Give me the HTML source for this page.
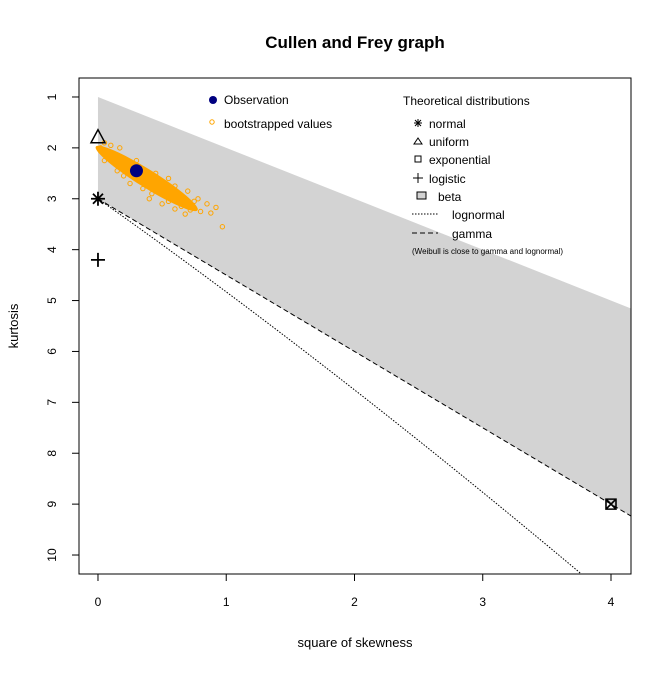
<!DOCTYPE html>
<html><head><meta charset="utf-8"><style>
body{margin:0;background:#fff}
svg text{font-family:"Liberation Sans",Arial,sans-serif}
</style></head><body>
<svg id="c" width="672" height="672" viewBox="0 0 672 672">
<text x="355" y="48" text-anchor="middle" font-size="17" font-weight="bold">Cullen and Frey graph</text>
<g id="plot"></g>
<rect x="79" y="78" width="552" height="496" fill="none" stroke="#000"/>
<g id="axes" font-size="12"></g>
<text x="355" y="647" text-anchor="middle" font-size="13">square of skewness</text>
<text transform="translate(18,326) rotate(-90)" text-anchor="middle" font-size="13">kurtosis</text>
<g id="legend" font-size="12">
<circle cx="213" cy="100" r="4" fill="#000080"/>
<text x="224" y="104">Observation</text>
<circle cx="212" cy="122" r="2.2" fill="none" stroke="orange"/>
<text x="224" y="128">bootstrapped values</text>
<text x="403" y="105">Theoretical distributions</text>
<path d="M414 123h8M418 119v8M415 120l6 6M415 126l6 -6" stroke="#000"/>
<text x="429" y="128">normal</text>
<polygon points="418,138 414,144 422,144" fill="none" stroke="#000"/>
<text x="429" y="146">uniform</text>
<rect x="415" y="156" width="6" height="6" fill="none" stroke="#000"/>
<text x="429" y="164">exponential</text>
<path d="M413 178h10M418 173v10" stroke="#000"/>
<text x="429" y="183">logistic</text>
<rect x="417" y="192" width="9" height="7" fill="#d3d3d3" stroke="#000"/>
<text x="438" y="201">beta</text>
<path d="M412 214h26" stroke="#000" stroke-dasharray="1.5,1.5"/>
<text x="452" y="219">lognormal</text>
<path d="M412 233h26" stroke="#000" stroke-dasharray="5,3"/>
<text x="452" y="238">gamma</text>
<text x="412" y="254" font-size="8">(Weibull is close to gamma and lognormal)</text>
</g>
</svg>
<script>
const xTicks=[0,1,2,3,4];
const yTicks=[1,2,3,4,5,6,7,8,9,10];
const obs=[0.3,2.45];
const bootX=[0.05,0.1,0.17,0.3,0.45,0.55,0.6,0.7,0.78,0.85,0.8,0.65,0.55,0.5,0.97,0.05,0.15,0.2,0.35,0.42,0.6,0.72,0.88,0.92,0.02,0.08,0.25,0.4,0.68,0.75];
const bootY=[1.9,1.95,2.0,2.25,2.5,2.6,2.75,2.85,3.0,3.1,3.25,3.15,3.05,3.1,3.55,2.25,2.45,2.55,2.8,2.9,3.2,3.22,3.28,3.17,2.0,2.2,2.7,3.0,3.3,3.05];
const theoX={uniform:0,normal:0,logistic:0,exponential:4};
const theoY={uniform:1.8,normal:3,logistic:4.2,exponential:9};
const xmin=-0.148,xmax=4.156,ymin=0.627,ymax=10.373;
const X=v=>79+(v-xmin)/(xmax-xmin)*552;
const Y=v=>78+(v-ymin)/(ymax-ymin)*496;
const NS="http://www.w3.org/2000/svg";
function mk(t,a,p){const e=document.createElementNS(NS,t);for(const k in a)e.setAttribute(k,a[k]);p.appendChild(e);return e;}
const plot=document.getElementById('plot'),axes=document.getElementById('axes');
const defs=mk('clipPath',{id:'clp'},plot);mk('rect',{x:79,y:78,width:552,height:496},defs);
const g=mk('g',{'clip-path':'url(#clp)'},plot);
const xe=xmax;
let beta=mk('polygon',{points:`${X(0)},${Y(1)} ${X(xe)},${Y(1+xe)} ${X(xe)},${Y(3+1.5*xe)} ${X(0)},${Y(3)}`,fill:'#d3d3d3'},g);


let gl=mk('line',{x1:X(0),y1:Y(3),x2:X(xe),y2:Y(3+1.5*xe),stroke:'#000','stroke-dasharray':'5,3'},g);


let pts=[];
for(let s=0.001;s<1.2;s+=0.005){const w=Math.exp(s*s);const sk=(w+2)*(w+2)*(w-1);const ku=w**4+2*w**3+3*w*w-3;pts.push(X(sk)+','+Y(ku));if(ku>11)break;}
let ln=mk('polyline',{points:pts.join(' '),fill:'none',stroke:'#000','stroke-dasharray':'1.5,1.5'},g);


let core=mk('ellipse',{cx:X(0.38),cy:Y(2.6),rx:60,ry:9,fill:'orange',transform:`rotate(32 ${X(0.38)} ${Y(2.6)})`},g);


for(let i=0;i<bootX.length;i++){
 const c=mk('circle',{cx:X(bootX[i]),cy:Y(bootY[i]),r:2.2,fill:'none',stroke:'orange'},g);
 
 
}
let o=mk('circle',{cx:X(obs[0]),cy:Y(obs[1]),r:6.5,fill:'#000080'},g);


let ux=X(theoX.uniform),uy=Y(theoY.uniform);
let tu=mk('polygon',{points:`${ux},${uy-8} ${ux-7},${uy+5} ${ux+7},${uy+5}`,fill:'none',stroke:'#000','stroke-width':1.5},plot);


let nx=X(theoX.normal),ny=Y(theoY.normal);
let tn=mk('path',{d:`M${nx-7} ${ny}h14M${nx} ${ny-7}v14M${nx-5} ${ny-5}l10 10M${nx-5} ${ny+5}l10 -10`,stroke:'#000','stroke-width':1.8},plot);


let lx=X(theoX.logistic),ly=Y(theoY.logistic);
let tl=mk('path',{d:`M${lx-7} ${ly}h14M${lx} ${ly-7}v14`,stroke:'#000','stroke-width':1.8},plot);


let ex=X(theoX.exponential),ey=Y(theoY.exponential);
let te=mk('path',{d:`M${ex-5} ${ey-5}h10v10h-10zM${ex-5} ${ey-5}l10 10M${ex-5} ${ey+5}l10 -10`,fill:'none',stroke:'#000','stroke-width':1.6},plot);


mk('line',{x1:X(0),x2:X(4),y1:574,y2:574,stroke:'#000'},axes);
xTicks.forEach(t=>{
 mk('line',{x1:X(t),x2:X(t),y1:574,y2:581,stroke:'#000'},axes);
 const e=mk('text',{x:X(t),y:606,'text-anchor':'middle'},axes);e.textContent=t;
 
 
});
mk('line',{x1:79,x2:79,y1:Y(1),y2:Y(10),stroke:'#000'},axes);
yTicks.forEach(t=>{
 mk('line',{x1:72,x2:79,y1:Y(t),y2:Y(t),stroke:'#000'},axes);
 const e=mk('text',{transform:`translate(52,${Y(t)}) rotate(-90)`,'text-anchor':'middle',y:4},axes);e.textContent=t;
 
 
});
</script>
</body></html>
